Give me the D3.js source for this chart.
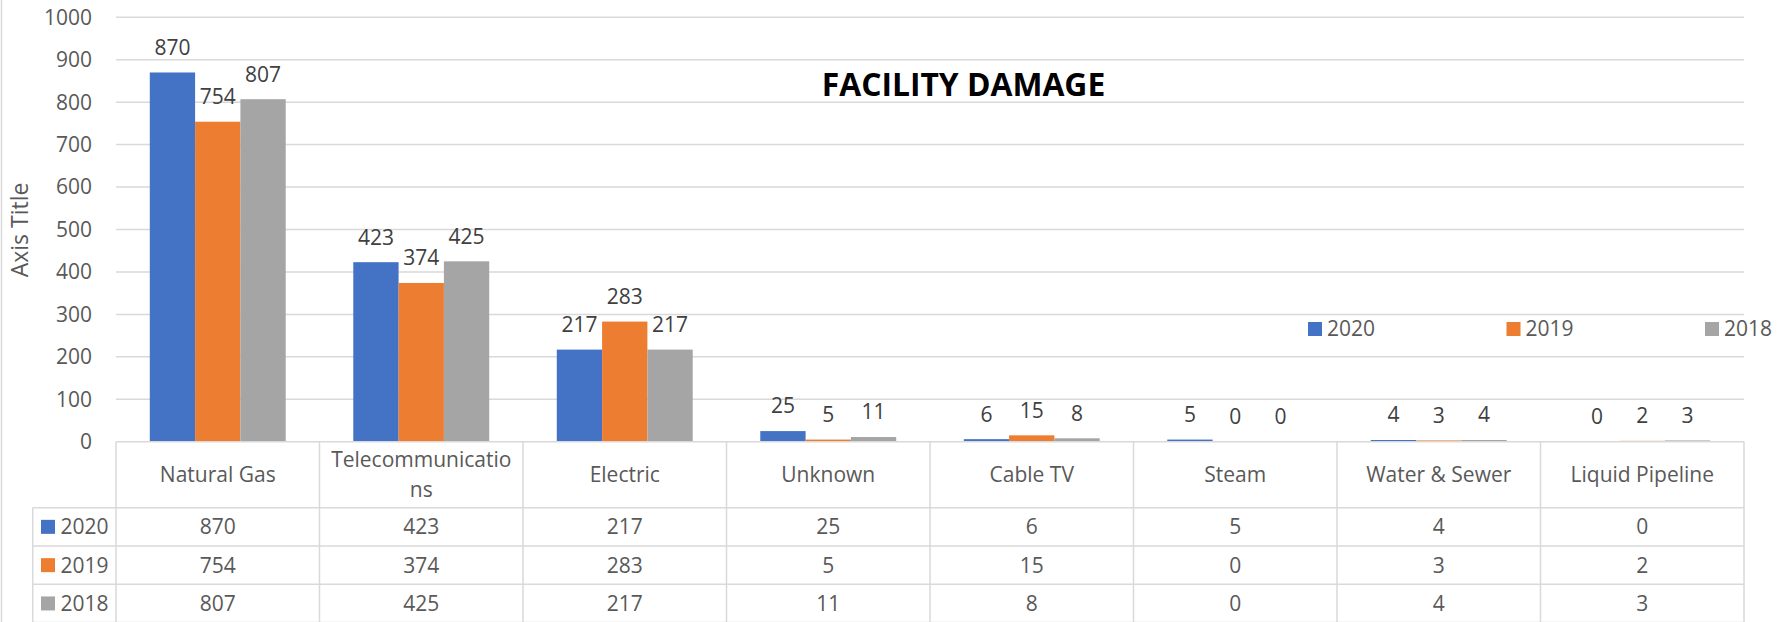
<!DOCTYPE html>
<html>
<head>
<meta charset="utf-8">
<script src="https://cdn.jsdelivr.net/npm/d3@7"></script>
<style>
  html, body { margin: 0; padding: 0; background: #fff; }
  svg { display: block; font-family: "Open Sans", sans-serif; }
</style>
</head>
<body>
<div id="chart"></div>
<script>
const categories = ["Natural Gas", "Telecommunications", "Electric", "Unknown", "Cable TV", "Steam", "Water & Sewer", "Liquid Pipeline"];
const headerLines = [["Natural Gas"], ["Telecommunicatio", "ns"], ["Electric"], ["Unknown"], ["Cable TV"], ["Steam"], ["Water & Sewer"], ["Liquid Pipeline"]];
const seriesNames = ["2020", "2019", "2018"];
const values2020 = [870, 423, 217, 25, 6, 5, 4, 0];
const values2019 = [754, 374, 283, 5, 15, 0, 3, 2];
const values2018 = [807, 425, 217, 11, 8, 0, 4, 3];
const yTicks = [0, 100, 200, 300, 400, 500, 600, 700, 800, 900, 1000];

const seriesValues = [values2020, values2019, values2018];
const colors = ["#4472C4", "#ED7D31", "#A5A5A5"];

const width = 1786, height = 622;
const plotLeft = 116, plotRight = 1744;
const plotTop = 17.3, plotBottom = 441.7;
const headerH = 66, rowH = 38.3;
const keyLeft = 32.7;
const gridColor = "#d9d9d9";
const textColor = "#595959";
const labelColor = "#404040";
const fontSize = 21;

const svg = d3.select("#chart")
  .append("svg")
  .attr("width", width)
  .attr("height", height);

// chart border (left edge only visible)
svg.append("line")
  .attr("x1", 1.5).attr("x2", 1.5)
  .attr("y1", 0).attr("y2", height)
  .attr("stroke", gridColor).attr("stroke-width", 1.5);

const y = d3.scaleLinear().domain([0, 1000]).range([plotBottom, plotTop]);

// columns of the data table share the category step
const xCol = d3.scaleBand().domain(categories).range([plotLeft, plotRight]).padding(0);
const gap = 0.332;
const xGroup = d3.scaleBand().domain(categories).range([plotLeft, plotRight])
  .paddingInner(gap).paddingOuter(gap / 2);
const xSeries = d3.scaleBand().domain(seriesNames).range([0, xGroup.bandwidth()]).padding(0);

// gridlines
svg.append("g")
  .selectAll("line")
  .data(yTicks.filter(d => d > 0))
  .join("line")
  .attr("x1", plotLeft).attr("x2", plotRight)
  .attr("y1", d => y(d)).attr("y2", d => y(d))
  .attr("stroke", gridColor).attr("stroke-width", 1.5);

// y tick labels
svg.append("g")
  .selectAll("text")
  .data(yTicks)
  .join("text")
  .attr("x", 92)
  .attr("y", d => y(d))
  .attr("dy", "0.35em")
  .attr("text-anchor", "end")
  .attr("font-size", fontSize)
  .attr("fill", textColor)
  .text(d => d);

// axis title
svg.append("text")
  .attr("transform", "translate(20,230) rotate(-90)")
  .attr("text-anchor", "middle")
  .attr("dy", "0.35em")
  .attr("font-size", 23)
  .attr("fill", textColor)
  .text("Axis Title");

// bars
const groups = svg.append("g")
  .selectAll("g")
  .data(seriesNames.map((s, i) => ({ name: s, values: seriesValues[i], color: colors[i] })))
  .join("g")
  .attr("fill", d => d.color);

groups.selectAll("rect")
  .data(d => d.values.map((v, j) => ({ s: d.name, cat: categories[j], v })))
  .join("rect")
  .attr("x", d => xGroup(d.cat) + xSeries(d.s))
  .attr("width", xSeries.bandwidth())
  .attr("y", d => y(d.v))
  .attr("height", d => y(0) - y(d.v));

// data labels
groups.selectAll("text")
  .data(d => d.values.map((v, j) => ({ s: d.name, cat: categories[j], v })))
  .join("text")
  .attr("x", d => xGroup(d.cat) + xSeries(d.s) + xSeries.bandwidth() / 2)
  .attr("y", d => y(d.v) - 25)
  .attr("dy", "0.35em")
  .attr("text-anchor", "middle")
  .attr("font-size", fontSize)
  .attr("fill", labelColor)
  .text(d => d.v);

// title
svg.append("text")
  .attr("x", 963.5)
  .attr("y", 85)
  .attr("dy", "0.35em")
  .attr("text-anchor", "middle")
  .attr("font-size", 31.8)
  .attr("font-weight", "bold")
  .attr("fill", "#000")
  .text("FACILITY DAMAGE");

// legend
const legend = svg.append("g")
  .selectAll("g")
  .data(seriesNames)
  .join("g")
  .attr("transform", (d, i) => `translate(${1308 + i * 198.5},329)`);
legend.append("rect")
  .attr("x", 0).attr("y", -7)
  .attr("width", 14).attr("height", 14)
  .attr("fill", (d, i) => colors[i]);
legend.append("text")
  .attr("x", 19)
  .attr("dy", "0.35em")
  .attr("font-size", fontSize)
  .attr("fill", textColor)
  .text(d => d);

// data table
const table = svg.append("g");
const tableTop = plotBottom;
const rowTop = i => tableTop + headerH + i * rowH;
const tableBottom = rowTop(seriesNames.length);

// horizontal lines
table.append("line")
  .attr("x1", plotLeft).attr("x2", plotRight)
  .attr("y1", tableTop).attr("y2", tableTop)
  .attr("stroke", gridColor).attr("stroke-width", 1.5);
table.selectAll("line.row")
  .data(d3.range(seriesNames.length + 1))
  .join("line")
  .attr("class", "row")
  .attr("x1", keyLeft).attr("x2", plotRight)
  .attr("y1", i => rowTop(i)).attr("y2", i => rowTop(i))
  .attr("stroke", gridColor).attr("stroke-width", 1.5);

// vertical lines
const colEdges = categories.map(c => xCol(c)).concat([plotRight]);
table.selectAll("line.col")
  .data(colEdges)
  .join("line")
  .attr("class", "col")
  .attr("x1", d => d).attr("x2", d => d)
  .attr("y1", tableTop).attr("y2", tableBottom)
  .attr("stroke", gridColor).attr("stroke-width", 1.5);
table.append("line")
  .attr("x1", keyLeft).attr("x2", keyLeft)
  .attr("y1", rowTop(0)).attr("y2", tableBottom)
  .attr("stroke", gridColor).attr("stroke-width", 1.5);

// header text
table.selectAll("text.head")
  .data(categories)
  .join("text")
  .attr("class", "head")
  .attr("x", c => xCol(c) + xCol.bandwidth() / 2)
  .attr("y", (c, i) => tableTop + headerH / 2 - (headerLines[i].length - 1) * 15)
  .attr("text-anchor", "middle")
  .attr("font-size", fontSize)
  .attr("fill", textColor)
  .each(function(c, i) {
    const t = d3.select(this);
    headerLines[i].forEach((ln, k) => {
      t.append("tspan")
        .attr("x", xCol(c) + xCol.bandwidth() / 2)
        .attr("dy", k === 0 ? "0.35em" : 30)
        .text(ln);
    });
  });

// rows
seriesNames.forEach((s, i) => {
  const cy = rowTop(i) + rowH / 2;
  table.append("rect")
    .attr("x", 41).attr("y", cy - 7)
    .attr("width", 14).attr("height", 14)
    .attr("fill", colors[i]);
  table.append("text")
    .attr("x", 60.5).attr("y", cy)
    .attr("dy", "0.35em")
    .attr("font-size", fontSize)
    .attr("fill", textColor)
    .text(s);
  table.selectAll(null)
    .data(seriesValues[i])
    .join("text")
    .attr("x", (v, j) => xCol(categories[j]) + xCol.bandwidth() / 2)
    .attr("y", cy)
    .attr("dy", "0.35em")
    .attr("text-anchor", "middle")
    .attr("font-size", fontSize)
    .attr("fill", textColor)
    .text(v => v);
});
</script>
</body>
</html>
